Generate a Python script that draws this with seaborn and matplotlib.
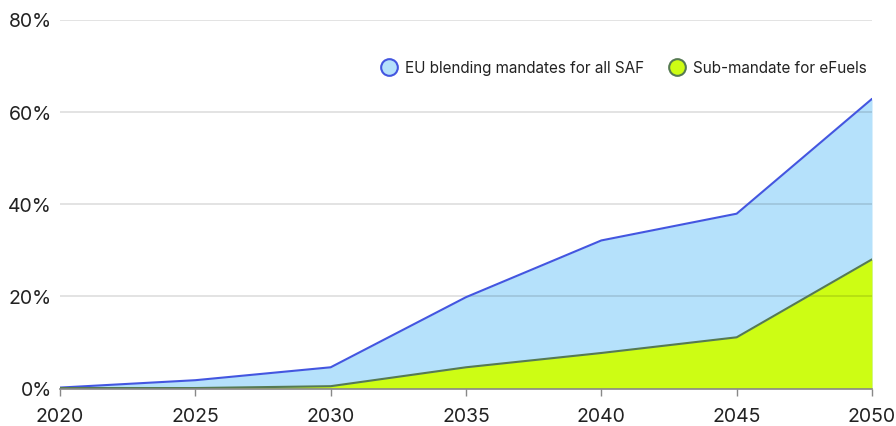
import matplotlib
matplotlib.use("Agg")
import matplotlib.pyplot as plt
from matplotlib.lines import Line2D
import seaborn as sns
import pandas as pd

years = [2020, 2025, 2030, 2035, 2040, 2045, 2050]
saf_all = [0.2, 1.8, 4.6, 19.8, 32.1, 37.9, 62.8]
efuels = [0.1, 0.1, 0.5, 4.6, 7.7, 11.1, 28.0]
y_ticks = [0, 20, 40, 60, 80]
y_tick_labels = ["0%", "20%", "40%", "60%", "80%"]
legend_labels = ["EU blending mandates for all SAF", "Sub-mandate for eFuels"]

df = pd.DataFrame({"year": years, "saf": saf_all, "efuels": efuels})

sns.set_theme(style="white")
plt.rcParams["font.family"] = ["Inter", "DejaVu Sans"]

fig = plt.figure(figsize=(8.96, 4.27), dpi=100)
L, R, B, T = 60, 872, 389.5, 20.5
ax = fig.add_axes([L/896, 1 - B/427, (R-L)/896, (B-T)/427])

blue_fill = "#b5e1fb"
blue_line = "#4356e0"
green_fill = "#cdfd14"
green_line = "#567a52"

ax.fill_between(df["year"], 0, df["saf"], color=blue_fill, lw=0, zorder=2)
ax.fill_between(df["year"], 0, df["efuels"], color=green_fill, lw=0, zorder=3)
sns.lineplot(data=df, x="year", y="saf", color=blue_line, lw=1.5, ax=ax, zorder=4)
sns.lineplot(data=df, x="year", y="efuels", color=green_line, lw=1.5, ax=ax, zorder=5)

ax.set_xlim(2020, 2050)
ax.set_ylim(0, 80)
ax.set_xlabel("")
ax.set_ylabel("")
ax.set_xticks(years)
ax.set_xticklabels([str(y) for y in years], fontsize=14, color="#222222")
ax.set_yticks(y_ticks)
ax.set_yticklabels(y_tick_labels, fontsize=14, color="#222222")
ax.tick_params(axis="y", length=0, pad=8*0.72)
ax.tick_params(axis="x", length=5, width=1, color="#888888", pad=12*0.72, direction="out")
ax.xaxis.set_ticks_position("bottom")

for v in y_ticks[1:]:
    ax.axhline(v, color="black", alpha=0.13, lw=1.2, zorder=3.5)

for s in ["top", "right", "left"]:
    ax.spines[s].set_visible(False)
ax.spines["bottom"].set_color("#888888")
ax.spines["bottom"].set_linewidth(1.2)
ax.spines["bottom"].set_zorder(6)

handles = [
    Line2D([0], [0], marker="o", linestyle="", markersize=12,
           markerfacecolor=blue_fill, markeredgecolor=blue_line, markeredgewidth=1.5),
    Line2D([0], [0], marker="o", linestyle="", markersize=12,
           markerfacecolor=green_fill, markeredgecolor=green_line, markeredgewidth=1.5),
]
leg = ax.legend(handles, legend_labels, loc="center right", bbox_to_anchor=(1.01, 0.87),
                ncol=2, frameon=False, fontsize=11, handletextpad=0.4,
                columnspacing=1.6, handlelength=1.2)
for t in leg.get_texts():
    t.set_color("#222222")

fig.savefig("out.png", dpi=100)
